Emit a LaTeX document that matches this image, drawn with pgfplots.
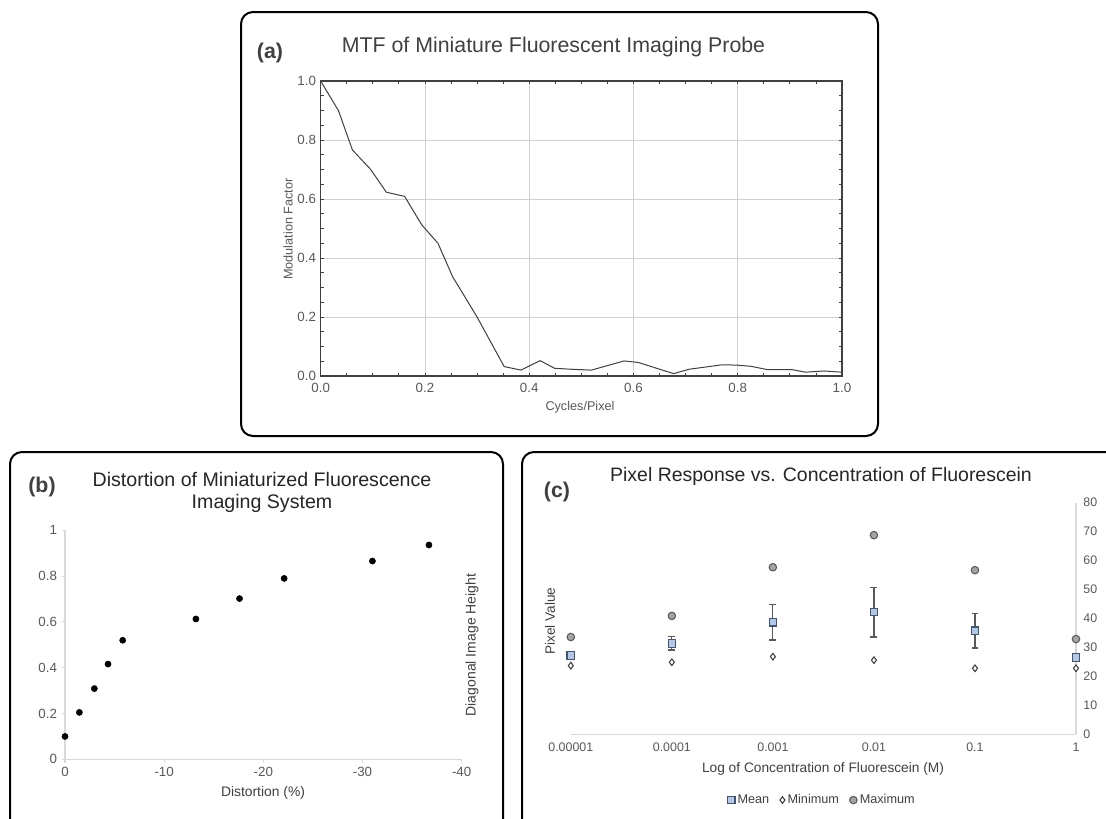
\documentclass[border=0pt]{standalone}
\usepackage{pgfplots}
\pgfplotsset{compat=1.18}
\usepackage{fontspec}
\setmainfont{Liberation Sans}

\definecolor{dk}{HTML}{404040}
\definecolor{md}{HTML}{595959}
\definecolor{lt}{HTML}{D9D9D9}
\definecolor{meanfill}{HTML}{B4C7E7}
\definecolor{meanline}{HTML}{44546A}
\definecolor{maxfill}{HTML}{A5A5A5}

\begin{document}
\begin{tikzpicture}[x=0.75pt,y=-0.75pt]
\clip (0,0) rectangle (1106,818);
\fill[white] (0,0) rectangle (1106,818);

% panel frames
\draw[line width=1.5pt, rounded corners=9pt] (241,12) rectangle (878,436);
\draw[line width=1.5pt, rounded corners=9pt] (10,452) rectangle (503,840);
\draw[line width=1.5pt, rounded corners=9pt] (522,452) rectangle (1130,840);

% ---------------- (a) MTF ----------------
\begin{axis}[
    at={(240.5pt,-282pt)}, anchor=south west,
    scale only axis, width=391pt, height=221.25pt,
    xmin=0, xmax=1, ymin=0, ymax=1,
    xtick={0,0.2,...,1}, ytick={0,0.2,...,1},
    minor x tick num=3, minor y tick num=3,
    tick align=inside, tick pos=both,
    major tick length=2.5pt, minor tick length=2.5pt,
    grid=major, major grid style={color=black!18, line width=0.6pt},
    axis line style={color=dk, line width=0.8pt},
    every tick/.style={color=dk, line width=0.6pt},
    tick label style={font=\fontsize{10}{12}\selectfont, text=md},
    /pgf/number format/assume math mode=true,
    xticklabel style={yshift=-1.5pt, /pgf/number format/.cd, fixed, fixed zerofill, precision=1},
    yticklabel style={/pgf/number format/.cd, fixed, fixed zerofill, precision=1},
]
\addplot[color=dk, line width=0.75pt] coordinates {
    (0,1.0) (0.034,0.90) (0.061,0.766) (0.096,0.70) (0.126,0.623) (0.161,0.609)
    (0.194,0.512) (0.225,0.45) (0.253,0.337) (0.276,0.27) (0.30,0.20) (0.352,0.032)
    (0.384,0.02) (0.421,0.052) (0.449,0.026) (0.48,0.023) (0.519,0.02) (0.582,0.051)
    (0.609,0.046) (0.677,0.008) (0.707,0.023) (0.77,0.038) (0.797,0.037) (0.825,0.033)
    (0.856,0.022) (0.903,0.022) (0.93,0.013) (0.966,0.017) (1.0,0.013)
};
\end{axis}
\node[anchor=base, font=\fontsize{16}{19}\selectfont\bfseries, text=dk] at (270,58) {(a)};
\node[anchor=base, font=\fontsize{16}{19}\selectfont, text=dk] at (553.5,52) {MTF of Miniature Fluorescent Imaging Probe};
\node[rotate=90, font=\fontsize{9.5}{11}\selectfont, text=md] at (288,229) {Modulation Factor};
\node[font=\fontsize{9.5}{11}\selectfont, text=md] at (580,407) {Cycles/Pixel};

% ---------------- (b) distortion ----------------
\begin{axis}[
    at={(48.75pt,-569.5pt)}, anchor=south west,
    scale only axis, width=297.5pt, height=171.75pt,
    xmin=-40, xmax=0, ymin=0, ymax=1, x dir=reverse,
    xtick={0,-10,-20,-30,-40}, ytick={0,0.2,...,1},
    axis x line*=bottom, axis y line*=left,
    axis line style={color=lt, line width=0.8pt},
    tick align=outside, major tick length=2.5pt,
    every tick/.style={color=lt, line width=0.8pt},
    tick label style={font=\fontsize{10}{12}\selectfont, text=md},
    /pgf/number format/assume math mode=true,
    clip=false,
]
\addplot[only marks, mark=*, mark size=2.3pt, color=black] coordinates {
    (0,0.10) (-1.45,0.205) (-2.96,0.309) (-4.34,0.416) (-5.82,0.52)
    (-13.2,0.613) (-17.6,0.702) (-22.1,0.79) (-31.0,0.866) (-36.7,0.936)
};
\end{axis}
\node[font=\fontsize{16}{19}\selectfont\bfseries, text=dk] at (42,487) {(b)};
\node[anchor=base, font=\fontsize{14.7}{17}\selectfont, text=black!85] at (262,486) {Distortion of Miniaturized Fluorescence};
\node[anchor=base, font=\fontsize{14.7}{17}\selectfont, text=black!85] at (262,508) {Imaging System};
\node[rotate=90, font=\fontsize{10.5}{12}\selectfont, text=dk] at (472,645) {Diagonal Image Height};
\node[font=\fontsize{10.4}{12}\selectfont, text=dk] at (263,793) {Distortion (\%)};

% ---------------- (c) pixel response ----------------
\begin{axis}[
    at={(428.1pt,-550.7pt)}, anchor=south west,
    scale only axis, width=378.9pt, height=173.7pt,
    xmin=0, xmax=5, ymin=0, ymax=80,
    xtick={0,1,2,3,4,5},
    xticklabels={0.00001,0.0001,0.001,0.01,0.1,1},
    ytick={0,10,...,80},
    axis x line*=bottom, axis y line*=right,
    axis line style={color=lt, line width=0.8pt},
    major tick length=0pt,
    tick label style={font=\fontsize{9.3}{11}\selectfont, text=md},
    yticklabel style={xshift=2pt},
    xticklabel style={yshift=-3pt},
    /pgf/number format/assume math mode=true,
    clip=false,
    legend columns=3,
    legend style={at={(0.498,-0.284)}, anchor=center, draw=none, fill=none,
        font=\fontsize{9.5}{11}\selectfont, text=dk,
        /tikz/every even column/.append style={column sep=6pt}},
    legend cell align=left,
]
\addplot[only marks, mark=square*, mark size=2.8pt,
    mark options={fill=meanfill, draw=meanline, line width=0.9pt},
    error bars/.cd, y dir=both, y explicit,
    error bar style={color=md, line width=0.9pt},
    error mark options={rotate=90, mark size=2.6pt, color=md, line width=0.9pt}]
    coordinates {
    (0,27.2) +- (0,1.0)
    (1,31.4) +- (0,2.3)
    (2,38.7) +- (0,6.1)
    (3,42.2) +- (0,8.6)
    (4,35.8) +- (0,6.0)
    (5,26.5) +- (0,1.0)
};
\addplot[only marks, mark=diamond*, mark size=2.5pt,
    mark options={fill=white, draw=dk, line width=0.8pt}] coordinates {
    (0,23.7) (1,24.9) (2,26.8) (3,25.6) (4,22.8) (5,22.8)
};
\addplot[only marks, mark=*, mark size=2.8pt,
    mark options={fill=maxfill, draw=md, line width=0.8pt}] coordinates {
    (0,33.6) (1,40.9) (2,57.7) (3,68.8) (4,56.7) (5,32.9)
};
\legend{Mean, Minimum, Maximum}
\end{axis}
\node[font=\fontsize{16}{19}\selectfont\bfseries, text=dk] at (557,492) {(c)};
\node[anchor=base, font=\fontsize{14.6}{17}\selectfont, text=black!85] at (821,481.7) {Pixel Response vs. Concentration of Fluorescein};
\node[rotate=90, font=\fontsize{10.2}{12}\selectfont, text=dk] at (550,621) {Pixel Value};
\node[font=\fontsize{10.3}{12}\selectfont, text=dk] at (823,769) {Log of Concentration of Fluorescein (M)};
\end{tikzpicture}
\end{document}
